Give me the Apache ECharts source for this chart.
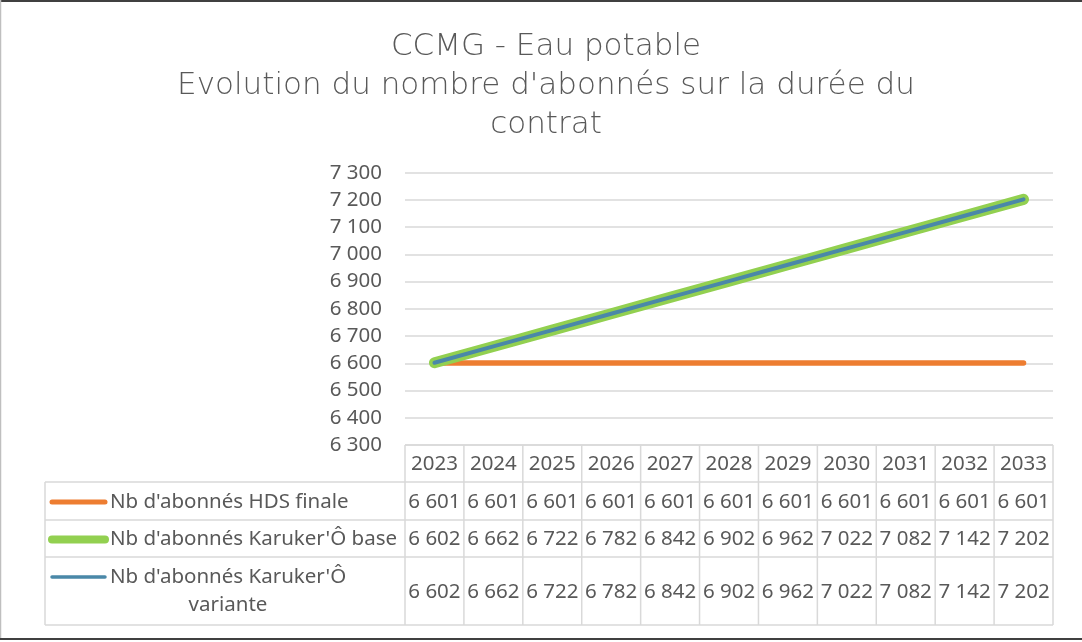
<!DOCTYPE html>
<html>
<head>
<meta charset="utf-8">
<script src="https://cdn.jsdelivr.net/npm/echarts@6/dist/echarts.min.js"></script>
<style>
  html, body { margin: 0; padding: 0; background: #fff; }
  #main { width: 1082px; height: 642px; }
</style>
</head>
<body>
<div id="main"></div>
<script>
// données
var years = ['2023', '2024', '2025', '2026', '2027', '2028', '2029', '2030', '2031', '2032', '2033'];
var hdsFinale = [6601, 6601, 6601, 6601, 6601, 6601, 6601, 6601, 6601, 6601, 6601];
var karukerBase = [6602, 6662, 6722, 6782, 6842, 6902, 6962, 7022, 7082, 7142, 7202];
var karukerVariante = [6602, 6662, 6722, 6782, 6842, 6902, 6962, 7022, 7082, 7142, 7202];
var seriesNames = ["Nb d'abonnés HDS finale", "Nb d'abonnés Karuker'Ô base", "Nb d'abonnés Karuker'Ô variante"];
var seriesColors = ['#ED7D31', '#92D050', '#4A88A8'];
var yMin = 6300, yMax = 7300, yStep = 100;

var textColor = '#595959';
var lineColor = '#d9d9d9';
var font = 'Noto Sans';

function fmt(n) {
  return String(n).replace(/\B(?=(\d{3})+(?!\d))/g, ' ');
}

var chart = echarts.init(document.getElementById('main'));

chart.setOption({
  animation: false,
  title: {
    text: "CCMG - Eau potable\nEvolution du nombre d'abonnés sur la durée du\ncontrat",
    left: 541,
    top: 22,
    textAlign: 'center',
    textStyle: {
      fontFamily: 'DejaVu Sans',
      fontWeight: 200,
      fontSize: 31,
      lineHeight: 39,
      color: textColor,
      align: 'center'
    }
  },
  grid: {
    left: 405,
    right: 29,
    top: 172.7,
    bottom: 197
  },
  xAxis: {
    type: 'category',
    data: years,
    boundaryGap: true,
    axisLine: { show: false },
    axisTick: { show: false },
    axisLabel: { show: false }
  },
  yAxis: {
    type: 'value',
    min: yMin,
    max: yMax,
    interval: yStep,
    axisLine: { show: false },
    axisTick: { show: false },
    axisLabel: {
      margin: 23,
      fontFamily: font,
      fontSize: 20.5,
      color: textColor,
      formatter: fmt
    },
    splitLine: { lineStyle: { color: lineColor, width: 1.5 } }
  },
  series: [
    {
      name: seriesNames[0], type: 'line', data: hdsFinale,
      showSymbol: false, symbol: 'none',
      lineStyle: { color: seriesColors[0], width: 5.5, cap: 'round' }
    },
    {
      name: seriesNames[1], type: 'line', data: karukerBase,
      showSymbol: false, symbol: 'none',
      lineStyle: { color: seriesColors[1], width: 11, cap: 'round' }
    },
    {
      name: seriesNames[2], type: 'line', data: karukerVariante,
      showSymbol: false, symbol: 'none',
      lineStyle: { color: seriesColors[2], width: 4, cap: 'round' }
    }
  ]
});

// table de données sous le graphique
function buildTable() {
  var els = [];
  var x0 = chart.convertToPixel({ xAxisIndex: 0 }, years[0]);
  var x1 = chart.convertToPixel({ xAxisIndex: 0 }, years[1]);
  var colW = x1 - x0;
  var tableLeft = x0 - colW / 2;
  var tableRight = tableLeft + colW * years.length;
  var top = chart.convertToPixel({ yAxisIndex: 0 }, yMin);
  var legendLeft = 45;
  var rows = [top, top + 37, top + 75, top + 112, top + 180];
  var seriesData = [hdsFinale, karukerBase, karukerVariante];
  var keyWidths = [5, 8, 3.5];
  var ls = { stroke: lineColor, lineWidth: 1.5 };

  function hline(y, xa, xb) {
    els.push({ type: 'line', shape: { x1: xa, y1: y, x2: xb, y2: y }, style: ls, silent: true });
  }
  function vline(x, ya, yb) {
    els.push({ type: 'line', shape: { x1: x, y1: ya, x2: x, y2: yb }, style: ls, silent: true });
  }
  function txt(s, x, y, align) {
    els.push({
      type: 'text', x: x, y: y, silent: true,
      style: { text: s, fill: textColor, font: '20.5px "' + font + '"', align: align || 'center', verticalAlign: 'middle' }
    });
  }

  hline(rows[0], tableLeft, tableRight);
  for (var r = 1; r < rows.length; r++) hline(rows[r], legendLeft, tableRight);
  vline(legendLeft, rows[1], rows[4]);
  for (var c = 0; c <= years.length; c++) {
    vline(tableLeft + c * colW, rows[0], rows[4]);
  }

  // en-têtes
  years.forEach(function (y, i) {
    txt(y, tableLeft + (i + 0.5) * colW, (rows[0] + rows[1]) / 2 + 1);
  });

  // lignes de valeurs
  seriesData.forEach(function (arr, s) {
    var cy = (rows[s + 1] + rows[s + 2]) / 2 + 1;
    arr.forEach(function (v, i) {
      txt(fmt(v), tableLeft + (i + 0.5) * colW, cy);
    });
    var ky = s < 2 ? cy : rows[s + 1] + 20;
    els.push({
      type: 'line', silent: true,
      shape: { x1: 52, y1: ky, x2: 105, y2: ky },
      style: { stroke: seriesColors[s], lineWidth: keyWidths[s], lineCap: 'round' }
    });
    if (s < 2) {
      txt(seriesNames[s], 110, cy, 'left');
    } else {
      var parts = seriesNames[s].split(' ');
      var last = parts.pop();
      txt(parts.join(' '), 110, ky, 'left');
      txt(last, 228, ky + 28, 'center');
    }
  });

  // cadre
  els.push({ type: 'line', silent: true, shape: { x1: 0, y1: 1, x2: 1082, y2: 1 }, style: { stroke: '#404040', lineWidth: 2 } });
  els.push({ type: 'line', silent: true, shape: { x1: 0.5, y1: 0, x2: 0.5, y2: 639 }, style: { stroke: '#bfbfbf', lineWidth: 1.5 } });
  els.push({ type: 'line', silent: true, shape: { x1: 0, y1: 639, x2: 1082, y2: 639 }, style: { stroke: '#404040', lineWidth: 2 } });

  chart.setOption({ graphic: els });
}
buildTable();
</script>
</body>
</html>
